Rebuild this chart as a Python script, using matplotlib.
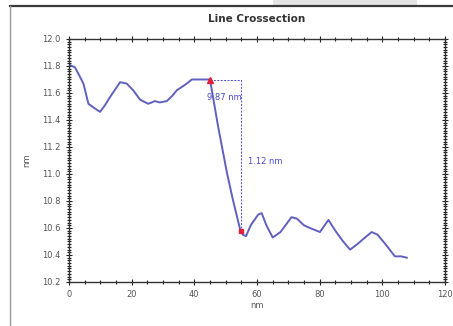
import numpy as np
import matplotlib
matplotlib.use("Agg")
import matplotlib.pyplot as plt
from matplotlib.lines import Line2D
from matplotlib.patches import Rectangle
from matplotlib.ticker import MultipleLocator

# profile (nm, nm)
x = [0, 1.9, 3.5, 4.6, 6.2, 8.0, 9.9, 11.5, 13.1, 16.3, 18.4, 20.5, 22.7, 25.3,
     27.4, 29.0, 31.2, 33.0, 34.4, 37.0, 39.2, 44.5, 45.0, 47.6, 50.4, 52.3,
     54.6, 55.5, 56.5, 58.0, 60.4, 61.5, 63.0, 65.0, 67.5, 71.0, 72.7, 75.0,
     76.9, 80.1, 82.8, 85.0, 87.5, 89.7, 92.0, 94.5, 96.6, 98.5, 101.0, 104.0,
     106.0, 107.8]
z = [11.81, 11.79, 11.72, 11.67, 11.52, 11.49, 11.46, 11.51, 11.57, 11.68, 11.67,
     11.62, 11.55, 11.52, 11.54, 11.53, 11.54, 11.58, 11.62, 11.66, 11.70, 11.70,
     11.70, 11.35, 11.01, 10.81, 10.59, 10.55, 10.54, 10.62, 10.70, 10.71, 10.62,
     10.53, 10.57, 10.68, 10.67, 10.62, 10.60, 10.57, 10.66, 10.58, 10.50, 10.44,
     10.48, 10.53, 10.57, 10.55, 10.48, 10.39, 10.39, 10.38]

# measurement cursors
cur_x = [45.0, 54.87]
cur_z = [11.70, 10.58]
dx_label = "9.87 nm"
dz_label = "1.12 nm"

line_col = '#6060c0'
meas_col = '#4a4ad0'
tick_col = '#555555'

fig = plt.figure(figsize=(4.53, 3.26), dpi=100)

# window frame bits
fig.add_artist(Rectangle((273/453, 1-5/326), 144/453, 5/326, transform=fig.transFigure,
                         color='#e4e4e4', lw=0))
fig.add_artist(Line2D([10/453, 1], [1-6/326, 1-6/326], transform=fig.transFigure,
                      color='#3a3a3a', lw=1.6))
fig.add_artist(Line2D([10/453, 10/453], [0, 1-6/326], transform=fig.transFigure,
                      color='#9a9a9a', lw=1.0))

ax = fig.add_axes([69/453, 1-282/326, 376/453, 243/326])
ax.plot(x, z, color=line_col, lw=1.4)

# cursor lines
ax.plot([cur_x[0], cur_x[1], cur_x[1]], [cur_z[0], cur_z[0], cur_z[1]],
        color=meas_col, lw=0.7, ls=(0, (2, 1.5)))
ax.plot(cur_x[0], cur_z[0], marker='^', color='#e0203a', ms=4.5, ls='')
ax.plot(cur_x[1], cur_z[1], marker='s', color='#e0203a', ms=3, ls='')
ax.text(44.2, 11.57, dx_label, color=meas_col, fontsize=6, ha='left', va='center')
ax.text(57.0, 11.09, dz_label, color=meas_col, fontsize=6, ha='left', va='center')

ax.set_xlim(0, 120)
ax.set_ylim(10.2, 12.0)
ax.xaxis.set_major_locator(MultipleLocator(20))
ax.xaxis.set_minor_locator(MultipleLocator(5))
ax.yaxis.set_major_locator(MultipleLocator(0.2))
ax.yaxis.set_minor_locator(MultipleLocator(0.02))
ax.tick_params(which='both', direction='inout', top=True, right=True,
               labelsize=6, labelcolor=tick_col, color='#222222')
ax.tick_params(which='major', length=5, width=0.8)
ax.tick_params(which='minor', length=2.5, width=0.8)
for s in ax.spines.values():
    s.set_linewidth(1.0)
    s.set_color('#333333')

ax.set_xlabel('nm', fontsize=6, color=tick_col, labelpad=1)
ax.set_ylabel('nm', fontsize=6, color=tick_col, labelpad=8)
ax.set_title('Line Crossection', fontsize=7.5, fontweight='bold', color='#333333', pad=12)

plt.savefig('out.png', dpi=100)
